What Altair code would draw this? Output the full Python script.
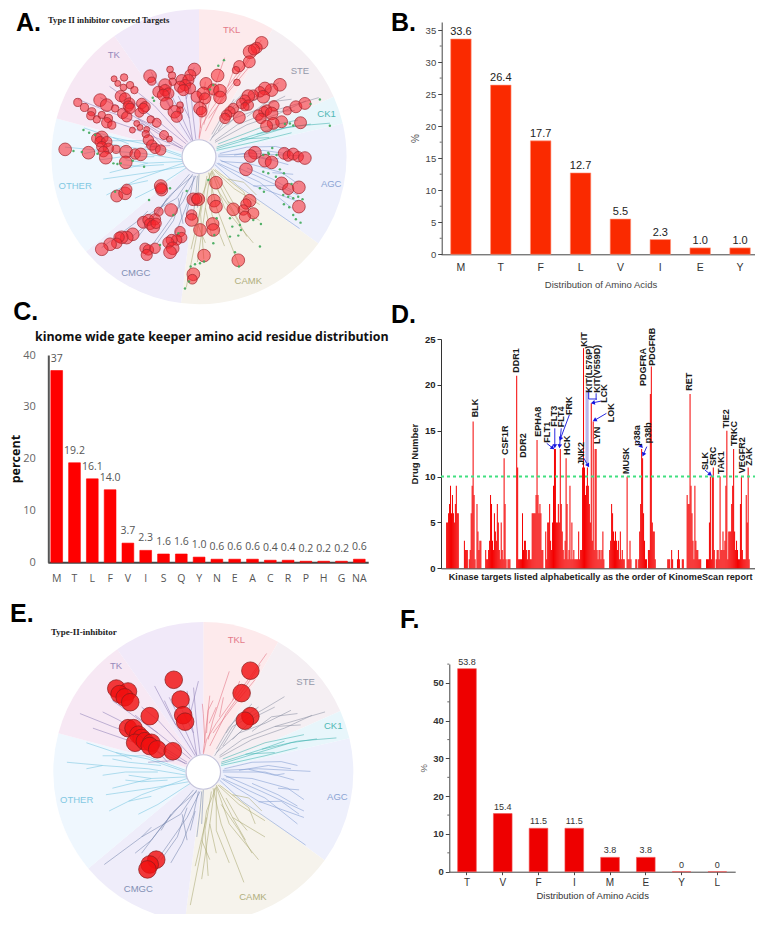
import math
import altair as alt
import pandas as pd

SANS = "Liberation Sans"
SERIF = "Liberation Serif"
OPEN = "Open Sans"

# ---- bar panels -------------------------------------------------------
b_cats = ["M", "T", "F", "L", "V", "I", "E", "Y"]
b_vals = [33.6, 26.4, 17.7, 12.7, 5.5, 2.3, 1.0, 1.0]
b_minor = [2.5, 7.5, 12.5, 17.5, 22.5, 27.5, 32.5]

c_cats = ["M", "T", "L", "F", "V", "I", "S", "Q", "Y", "N", "E", "A", "C", "R", "P", "H", "G", "NA"]
c_vals = [37, 19.2, 16.1, 14.0, 3.7, 2.3, 1.6, 1.6, 1.0, 0.6, 0.6, 0.6, 0.4, 0.4, 0.2, 0.2, 0.2, 0.6]
c_text = ["37", "19.2", "16.1", "14.0", "3.7", "2.3", "1.6", "1.6", "1.0", "0.6", "0.6", "0.6", "0.4", "0.4", "0.2", "0.2", "0.2", "0.6"]

f_cats = ["T", "V", "F", "I", "M", "E", "Y", "L"]
f_vals = [53.8, 15.4, 11.5, 11.5, 3.8, 3.8, 0, 0]
f_text = ["53.8", "15.4", "11.5", "11.5", "3.8", "3.8", "0", "0"]
f_minor = [5, 15, 25, 35, 45, 55]

# ---- panel D: (first slot, drug numbers at consecutive slots, 3 map units apart)
d_runs = [
    (185, [5, 5, 6, 7, 9, 6, 8, 6, 5, 7, 9, 6, 6]),
    (240, [3, 2, 2, 2, 0, 1, 2, 6, 9, 16, 8, 1, 0, 7, 4, 2, 3, 3]),
    (306, [2, 1, 1, 2, 3, 8, 7, 3, 2, 6, 4, 3, 7, 5, 2, 1, 5, 2, 1, 12, 7, 1, 0, 1, 1, 1]),
    (402, [21, 11, 1, 1, 1, 1, 6, 2, 3, 3, 2, 1, 2, 2, 1, 1, 6, 6, 6, 6, 8, 14, 8, 6, 7, 6, 2, 2]),
    (492, [4, 1, 5, 5, 7, 3, 2, 5, 9, 13, 13, 5, 5, 7, 5, 13, 7, 4, 2, 1, 3, 12, 7, 1, 2, 9, 1, 5, 1, 2, 1, 1, 1, 1, 4, 1, 2, 2, 11, 24, 11, 8, 9, 11, 9, 7, 5, 18, 3, 16, 2, 13, 13, 2, 1, 2, 2, 1, 2, 4, 1]),
    (690, [2, 3, 7, 6, 4, 3, 4, 3, 2, 3, 1, 4, 1, 2, 1, 1]),
    (744, [10, 1, 1, 3, 1]),
    (771, [1, 1, 0, 1, 4, 7, 13, 12, 6, 3, 1, 1]),
    (810, [2, 2, 19, 22, 5, 4, 4, 1]),
    (870, [1, 1, 1, 0, 2, 1]),
    (900, [1, 2, 1]),
    (915, [1, 1]),
    (930, [8, 7, 7, 19, 9, 6, 3, 1, 9, 3, 2, 2, 1, 1, 1]),
    (990, [1, 1, 1, 5, 10, 1, 10, 11, 2, 0, 1, 2, 2, 1, 10, 2, 2, 4, 2, 3, 9, 15, 1, 4, 4, 4, 7, 9, 13, 4, 2, 3, 2, 1, 1, 7, 10, 2, 1, 1, 1, 8, 5, 11, 1]),
]
d_names = ["BLK", "CSF1R", "DDR1", "DDR2", "EPHA8", "FLT1", "FLT3", "FLT4", "FRK", "HCK", "JNK2", "KIT",
           "KIT(L576P)", "KIT(V559D)", "LCK", "LOK", "LYN", "MUSK", "p38a", "p38b", "PDGFRA", "PDGFRB",
           "RET", "SLK", "SRC", "TAK1", "TIE2", "TRKC", "VEGFR2", "ZAK"]
d_name_x = [272, 367, 400, 422, 467, 497, 518, 540, 565, 558, 600, 612, 627, 650, 672, 695, 652, 742,
            775, 808, 793, 820, 937, 985, 1010, 1035, 1050, 1075, 1100, 1122]
d_name_y = [352, 465, 218, 473, 410, 428, 380, 382, 345, 465, 495, 140, 278, 278, 308, 367, 432, 522,
            437, 430, 258, 197, 272, 510, 497, 522, 385, 438, 520, 497]
# arrows: x, y, x2, y2 in the same map units
d_arrows = [(495, 430, 512, 443), (520, 385, 520, 437), (540, 385, 535, 437), (565, 345, 538, 415),
            (610, 475, 622, 495), (665, 303, 640, 308), (680, 340, 645, 360), (770, 420, 787, 438),
            (805, 440, 795, 462), (985, 510, 1000, 522)]
d_bracket = [(625, 270, 625, 297), (625, 297, 650, 297), (648, 280, 648, 300)]

# ---- kinome tree: polylines per family, map units from reference crop E
tree_center = (610, 520)
tree = {
    "TKL": [[(610, 465), (620, 420), (650, 370), (700, 300), (745, 240), (805, 155)],
            [(630, 440), (680, 340), (735, 265), (785, 190)],
            [(625, 420), (640, 360), (690, 210)],
            [(610, 460), (630, 285)],
            [(620, 400), (625, 330), (640, 300)],
            [(640, 400), (700, 320), (770, 235)],
            [(615, 430), (610, 340), (607, 310)],
            [(660, 350), (672, 290)], [(700, 300), (722, 240)], [(628, 370), (650, 320)]],
    "STE": [[(645, 470), (700, 380), (790, 330), (860, 288)],
            [(650, 460), (720, 400), (800, 370), (880, 330)],
            [(660, 470), (730, 420), (830, 380), (985, 335)],
            [(660, 475), (760, 420), (860, 385), (945, 345)],
            [(650, 450), (690, 380), (760, 310)],
            [(700, 420), (770, 350), (830, 320)],
            [(670, 440), (720, 360), (780, 320)],
            [(760, 395), (820, 350), (900, 340)], [(680, 400), (720, 340)], [(830, 380), (910, 375)]],
    "CK1": [[(665, 490), (790, 450), (900, 425), (1020, 415)],
            [(665, 495), (780, 460), (880, 430), (960, 418)],
            [(670, 480), (800, 430), (920, 405)],
            [(665, 500), (800, 470), (900, 445)],
            [(790, 450), (860, 425)], [(740, 465), (830, 460)]],
    "AGC": [[(670, 515), (780, 510), (940, 518)],
            [(675, 510), (760, 490), (850, 488), (900, 500)],
            [(670, 520), (800, 520), (890, 545)],
            [(680, 535), (760, 540), (870, 570), (920, 605)],
            [(675, 530), (790, 580), (920, 640)],
            [(665, 540), (780, 610), (920, 660)],
            [(660, 545), (730, 610), (860, 700), (925, 745)],
            [(670, 540), (800, 600), (900, 680)],
            [(720, 515), (810, 500), (880, 510)],
            [(760, 555), (840, 590), (900, 625)],
            [(750, 512), (830, 530), (860, 525)], [(840, 570), (905, 575)], [(780, 612), (850, 610), (905, 650)]],
    "CAMK": [[(650, 565), (620, 640), (600, 780), (570, 930)],
             [(645, 570), (630, 680), (605, 850)],
             [(640, 570), (665, 680), (735, 860)],
             [(650, 560), (700, 660), (800, 720)],
             [(650, 565), (690, 680), (780, 790)],
             [(655, 560), (720, 620), (800, 670)],
             [(650, 570), (650, 700), (690, 800)],
             [(660, 560), (750, 630), (770, 680)],
             [(635, 580), (615, 700), (625, 840)],
             [(620, 660), (585, 810)],
             [(665, 620), (720, 700), (760, 770)],
             [(700, 590), (750, 600), (790, 640)],
             [(700, 660), (740, 730)], [(630, 680), (650, 770)], [(605, 730), (630, 790)], [(680, 600), (720, 670), (745, 700)]],
    "CMGC": [[(590, 575), (540, 650), (420, 720), (305, 805)],
             [(600, 580), (560, 660), (490, 760), (440, 830)],
             [(605, 580), (600, 640), (590, 720)],
             [(595, 580), (580, 650), (545, 740), (510, 800)],
             [(590, 580), (520, 640), (450, 730), (400, 770)],
             [(580, 575), (480, 690), (420, 770)],
             [(610, 575), (605, 680)],
             [(560, 630), (530, 720), (480, 790)],
             [(545, 650), (560, 730)], [(480, 700), (510, 650)], [(420, 720), (450, 690)], [(585, 640), (570, 700)]],
    "OTHER": [[(560, 530), (440, 510), (300, 500), (190, 490)],
              [(555, 520), (440, 480), (340, 460), (250, 430)],
              [(560, 535), (450, 540), (330, 570)],
              [(565, 550), (450, 570), (310, 590)],
              [(570, 555), (470, 620), (410, 650)],
              [(560, 540), (420, 590), (320, 640)],
              [(555, 515), (430, 470), (300, 470)],
              [(480, 500), (380, 490), (330, 480)],
              [(500, 545), (420, 550), (370, 545)],
              [(340, 460), (390, 480)], [(300, 500), (250, 510)], [(450, 540), (380, 530)], [(450, 595), (380, 610)], [(470, 520), (370, 520), (300, 530)]],
    "TK": [[(555, 495), (440, 420), (330, 380), (230, 340)],
           [(560, 490), (450, 420), (350, 360), (300, 335)],
           [(570, 480), (470, 400), (330, 300)],
           [(560, 495), (400, 430), (270, 385)],
           [(585, 470), (510, 350), (460, 255)],
           [(590, 470), (570, 340), (595, 240)],
           [(590, 470), (540, 360), (505, 290)],
           [(575, 475), (470, 360), (420, 320)],
           [(600, 465), (590, 380), (580, 260)],
           [(500, 440), (420, 400), (500, 490)],
           [(570, 340), (560, 270)], [(525, 375), (490, 300)], [(440, 490), (520, 485)], [(580, 400), (545, 330)], [(470, 400), (400, 345)]],
}
family_color = {"TKL": "#e2707f", "STE": "#8b90a2", "CK1": "#3fb2ae", "AGC": "#7f9bd0",
                "CAMK": "#a9a871", "CMGC": "#7585ad", "OTHER": "#77c4e0", "TK": "#8e80b6"}

# sectors: start/end angle clockwise from north, fill
sector_start = [0, 30, 66, 77, 126, 187, 230, 285, 325]
sector_end = [30, 66, 77, 126, 187, 230, 285, 325, 360]
sector_fill = ["#fdeaec", "#f5eff3", "#e8f6fb", "#eef0fc", "#f6f3ec", "#efedfa", "#eff7fe", "#f7e8f4", "#f1e9f9"]

fam_names = ["TK", "TKL", "STE", "CK1", "AGC", "CAMK", "CMGC", "OTHER"]
a_fam_x = [341, 695, 900, 980, 994, 745, 407, 225]
a_fam_y = [165, 90, 213, 341, 551, 843, 819, 558]
e_fam_x = [341, 712, 925, 1010, 1023, 763, 410, 220]
e_fam_y = [192, 112, 243, 377, 598, 905, 880, 605]

# panel A circles: map x, map y, radius
a_circles = [
 (785,128,17),(770,143,15),(750,155,18),(762,148,15),(748,185,16),(718,198,15),(708,210,10),(711,247,9),(653,226,17),
 (583,208,17),(571,225,15),(510,208,9),(516,226,10),(450,228,17),(455,243,11),(518,245,10),(495,255,17),(545,240,15),
 (565,240,15),(555,255,15),(540,260,15),(570,265,15),(550,270,15),(475,275,15),(495,270,15),(505,280,15),(490,285,16),
 (500,310,17),(618,250,16),(640,268,15),(610,280,17),(660,272,17),(660,292,17),(590,290,15),(615,295,15),(600,325,17),
 (605,335,14),(540,315,9),(540,330,9),(523,335,17),(530,350,15),
 (372,232,10),(342,236,8),(353,250,8),(390,255,10),(370,262,9),(403,270,10),(362,288,15),(375,295,15),(388,310,15),
 (300,300,17),(320,315,17),(345,325,10),(233,307,11),(253,322,11),(275,335,11),(272,347,11),(290,358,10),(305,345,10),
 (325,355,11),(320,368,14),(335,375,11),(368,340,14),(380,350,14),(385,318,14),(425,310,14),(435,320,14),(418,338,12),
 (390,325,14),(430,325,14),(452,358,10),(470,368,12),(397,390,8),(420,382,8),(410,370,8),(440,388,8),(437,402,10),
 (445,420,14),(455,435,14),(465,445,14),(482,450,14),(492,405,12),(508,417,8),
 (840,254,17),(815,270,17),(795,265,17),(780,275,14),(790,290,17),(760,285,14),(745,288,17),(735,300,14),(725,310,14),
 (745,315,14),(700,325,14),(690,335,14),(680,345,14),(735,320,11),(718,352,16),(822,317,14),(800,330,14),(792,335,14),
 (815,340,17),(775,345,14),(783,355,14),(862,332,11),(888,320,16),(915,310,16),(845,365,16),(820,370,16),(800,378,16),
 (902,368,16),(675,355,14),
 (765,458,17),(752,468,17),(795,482,17),(815,487,17),(853,460,16),(865,468,14),(880,462,16),(895,470,14),(915,474,17),
 (738,508,17),(845,550,17),(865,567,15),(897,562,17),(897,620,17),
 (195,448,17),(265,458,17),(305,412,17),(290,415,14),(300,425,14),(320,425,14),(305,440,14),(325,445,14),(310,455,14),
 (348,448,11),(317,473,17),(378,455,17),(377,487,17),(405,462,14),(422,463,17),(350,588,16),(375,580,17),(380,568,14),
 (482,558,17),(485,570,16),(483,565,15),
 (648,548,17),(642,602,17),(648,620,17),(749,602,17),(738,612,14),(700,628,17),(730,630,14),(760,640,15),(735,650,15),
 (638,672,17),(640,690,17),(600,690,17),(612,767,17),(715,781,17),(580,823,17),(577,838,13),
 (580,598,17),(595,598,17),(590,597,14),(575,645,14),(575,660,17),(513,630,17),(476,635,12),(430,667,16),(445,660,15),
 (465,658,15),(450,672,15),(460,680,17),(468,670,14),(398,703,17),(380,713,17),(365,712,17),(357,712,14),(350,730,14),
 (330,733,17),(305,748,17),(540,695,14),(545,713,14),(530,720,14),(515,720,15),(505,728,15),(518,745,17),(510,757,17),
 (435,745,14),(445,750,14),(465,745,14),(440,765,15),
]
a_center = (597, 470)
a_dots = [
 (960,298),(990,377),(932,312),(870,370),(880,376),(855,372),(672,180),(655,197),(640,255),(630,268),(458,293),(462,302),
 (250,390),(267,398),(285,405),(220,453),(245,456),(292,461),(340,490),(352,492),(362,490),(398,482),(432,500),(817,444),
 (805,458),(790,465),(830,465),(807,462),(840,508),(852,520),(790,515),(805,520),(828,530),(875,552),(780,565),(792,575),
 (850,585),(865,590),(880,595),(895,590),(908,598),(852,613),(868,622),(880,645),(888,658),(902,668),(345,575),(447,600),
 (510,565),(560,573),(625,540),(690,655),(760,660),(783,672),(720,675),(697,680),(723,690),(715,707),(690,710),(643,705),
 (780,740),(705,757),(717,800),(650,655),(640,730),(612,785),(600,790),(585,793),(572,800),(567,845),(555,866),(520,645),
 (480,735),(535,700),
]
# panel E circles: map x, map y
e_circles = [(519,236),(540,297),(548,345),(554,365),(342,263),(378,272),(352,280),(368,290),(385,305),(445,348),(755,208),
             (728,277),(755,348),(738,362),(378,385),(395,385),(410,405),(420,415),(400,430),(430,425),(450,430),(445,440),
             (468,450),(516,456),(465,790),(445,805),(438,820)]

# ---- layout of the grid cells
COLS = [8, 380]
COL_W = [372, 377]
ROWS = [8, 300, 600]
ROW_H = [292, 300, 315]


def note(text, x, y, cell, **kw):
    """Annotation given in page position, converted to the cell."""
    kw.setdefault("font", SANS)
    return alt.Chart(alt.Data(values=[{"t": text}])).mark_text(**kw).encode(
        x=alt.value(x - cell[0]), y=alt.value(y - cell[1]), text="t:N")


def band(cats, a, b, pad):
    return alt.Scale(domain=cats, range=[a, b], paddingInner=pad, paddingOuter=pad / 2)


def bar_panel(cats, vals, texts, cell, size, xr, pad, yd, yr, color, stroke, axis_y, axis_x, label, dy, minor=None, minor_x=None, extra=()):
    df = pd.DataFrame({"c": cats, "v": vals, "t": texts})
    xs = band(cats, xr[0] - cell[0], xr[1] - cell[0], pad)
    ys = alt.Scale(domain=yd, range=[yr[0] - cell[1], yr[1] - cell[1]], nice=False, zero=False)
    base = alt.Chart(df)
    layers = [
        base.mark_bar(color=color, stroke=stroke, strokeWidth=0.6).encode(
            x=alt.X("c:N", scale=xs, axis=alt.Axis(labelOverlap=False, **axis_x), sort=None),
            y=alt.Y("v:Q", scale=ys, axis=alt.Axis(labelOverlap=False, **axis_y))),
        base.mark_text(dy=dy, **label).encode(
            x=alt.X("c:N", scale=xs, sort=None), y=alt.Y("v:Q", scale=ys), text="t:N"),
    ]
    if minor:
        layers.append(alt.Chart(pd.DataFrame({"v": minor})).mark_rule(color="#444", strokeWidth=0.8).encode(
            y=alt.Y("v:Q", scale=ys), x=alt.value(minor_x - 2 - cell[0]), x2=alt.value(minor_x - cell[0])))
    layers.extend(extra)
    return alt.layer(*layers).properties(width=size[0], height=size[1])


def tree_frame():
    rows = []
    k = 0
    for fam, lines in tree.items():
        for line in lines:
            k += 1
            for i, (x, y) in enumerate(line):
                rows.append({"fam": fam, "b": k, "i": i, "x": (x - tree_center[0]) / 462, "y": (y - tree_center[1]) / 462})
    return pd.DataFrame(rows)


def kinome(cell, cx, cy, R, cen, zR, marks, names_x, names_y, title_layer, line_op):
    sx = alt.Scale(domain=[-1, 1], range=[cx - R - cell[0], cx + R - cell[0]], nice=False, zero=False)
    sy = alt.Scale(domain=[-1, 1], range=[cy - R - cell[1], cy + R - cell[1]], nice=False, zero=False)
    sectors = pd.DataFrame({"a": [math.radians(v) for v in sector_start],
                            "b": [math.radians(v) for v in sector_end], "f": sector_fill})
    X0 = alt.X(datum=0, scale=sx, axis=None)
    Y0 = alt.Y(datum=0, scale=sy, axis=None)
    bg = alt.Chart(sectors).mark_arc(outerRadius=R, innerRadius=0).encode(
        x=X0, y=Y0, theta=alt.Theta("a:Q", scale=None), theta2=alt.Theta2("b:Q"),
        fill=alt.Fill("f:N", scale=None, legend=None))
    tree_l = alt.Chart(tree_frame()).mark_line(strokeWidth=0.65, opacity=line_op).encode(
        x=alt.X("x:Q", scale=sx, axis=None), y=alt.Y("y:Q", scale=sy, axis=None),
        detail="b:N", order="i:Q",
        color=alt.Color("fam:N", scale=alt.Scale(domain=list(family_color), range=list(family_color.values())), legend=None))
    hub = alt.Chart(alt.Data(values=[{"o": 1}])).mark_arc(outerRadius=R * 0.115, innerRadius=0, fill="white", stroke="#c4c4dc", strokeWidth=1.2).encode(
        x=X0, y=Y0, theta=alt.value(0), theta2=alt.value(6.2832))
    nm = pd.DataFrame({"n": fam_names, "x": [(v - cen[0]) / zR for v in names_x], "y": [(v - cen[1]) / zR for v in names_y]})
    names = alt.Chart(nm).mark_text(font=SANS, fontSize=9.5, opacity=0.9).encode(
        x=alt.X("x:Q", scale=sx, axis=None), y=alt.Y("y:Q", scale=sy, axis=None), text="n:N",
        color=alt.Color("n:N", scale=alt.Scale(domain=fam_names, range=["#5b4ba0", "#e0606e", "#7c8296", "#12a6a8", "#4a78d0", "#8f8e45", "#4f63a8", "#4db2e2"]), legend=None))
    return alt.layer(bg, tree_l, hub, names, *[m(sx, sy) for m in marks], *title_layer).properties(width=COL_W[cell[2]], height=ROW_H[cell[3]])


def a_circle_layer(sx, sy):
    df = pd.DataFrame(a_circles, columns=["x", "y", "r"])
    df["x"] = (df.x - a_center[0]) / 443
    df["y"] = (df.y - a_center[1]) / 443
    df["s"] = (2 * 1.12 * df.r / 3) ** 2
    return alt.Chart(df).mark_point(filled=True, shape="circle", fill="#f8222a", fillOpacity=0.55, stroke="#a02830", strokeWidth=0.8, strokeOpacity=0.9).encode(
        x=alt.X("x:Q", scale=sx, axis=None), y=alt.Y("y:Q", scale=sy, axis=None), size=alt.Size("s:Q", scale=None, legend=None))


def a_dot_layer(sx, sy):
    df = pd.DataFrame(a_dots, columns=["x", "y"])
    df["x"] = (df.x - a_center[0]) / 443
    df["y"] = (df.y - a_center[1]) / 443
    return alt.Chart(df).mark_point(filled=True, shape="circle", size=6, color="#3fa85a", opacity=0.9).encode(
        x=alt.X("x:Q", scale=sx, axis=None), y=alt.Y("y:Q", scale=sy, axis=None))


def e_circle_layer(sx, sy):
    df = pd.DataFrame(e_circles, columns=["x", "y"])
    df["x"] = (df.x - tree_center[0]) / 462
    df["y"] = (df.y - tree_center[1]) / 462
    return alt.Chart(df).mark_point(filled=True, shape="circle", size=310, fill="#f01010", fillOpacity=0.82, stroke="#8a1a1a", strokeWidth=0.8, strokeOpacity=0.9).encode(
        x=alt.X("x:Q", scale=sx, axis=None), y=alt.Y("y:Q", scale=sy, axis=None))


LETTER = dict(fontSize=25, fontWeight="bold", align="left", baseline="alphabetic", color="black")

# ---- A
cell = (COLS[0], ROWS[0], 0, 0)
panel_a = kinome(cell, 199, 156.7, 147.5, a_center, 443, [a_circle_layer, a_dot_layer], a_fam_x, a_fam_y, [
    note("A.", 16, 30.5, cell, **LETTER),
    note("Type II inhibitor covered Targets", 48, 19.5, cell, font=SERIF, fontSize=8.6, fontWeight="bold", align="left", color="#222"),
], 0.85)

# ---- B
cell = (COLS[1], ROWS[0], 1, 0)
panel_b = bar_panel(
    b_cats, b_vals, [f"{v:.1f}" for v in b_vals], cell, (COL_W[1], ROW_H[0]), (441, 760), 0.486,
    [0, 36.25], (254.3, 22), "#fa2a00", "#ff9980",
    dict(values=[0, 5, 10, 15, 20, 25, 30, 35], title="%", offset=-(441.7 - cell[0]), grid=False, tickSize=4, tickColor="#444",
         domainColor="#444", labelFont=SANS, labelFontSize=9.5, labelColor="#444", titleFont=SANS, titleFontSize=10,
         titleFontWeight="normal", titleColor="#555", titlePadding=5, labelPadding=2),
    dict(title="Distribution of Amino Acids", labelAngle=0, offset=(254.3 - cell[1]) - ROW_H[0], grid=False, tickSize=0,
         domainColor="#444", labelFont=SANS, labelFontSize=10.5, labelColor="#333", labelPadding=8, titleFont=SANS,
         titleFontSize=9.5, titleFontWeight="normal", titleColor="#444", titlePadding=7),
    dict(font=SANS, fontSize=11, color="#222"), -7, minor=b_minor, minor_x=441.7,
    extra=[note("B.", 391, 30.5, cell, **LETTER)])

# ---- C
cell = (COLS[0], ROWS[1], 0, 1)
panel_c = bar_panel(
    c_cats, c_vals, c_text, cell, (COL_W[0], ROW_H[1]), (47.8, 368.2), 0.34,
    [0, 40], (562.3, 355), "#ff0000", "#ff0000",
    dict(values=[0, 5, 10, 15, 20, 25, 30, 35, 40], title="percent", offset=-(48.3 - cell[0]), grid=False, ticks=False,
         domainColor="#555", domainWidth=2, labelFont=OPEN, labelFontSize=11, labelColor="#666", labelPadding=13,
         titleFont=OPEN, titleFontSize=12.5, titleFontWeight="bold", titleColor="#111", titlePadding=0),
    dict(title=None, labelAngle=0, offset=(562.3 - cell[1]) - ROW_H[1], grid=False, ticks=False, domainColor="#444", domainWidth=2,
         labelFont=OPEN, labelFontSize=10.5, labelColor="#555", labelPadding=11),
    dict(font=OPEN, fontSize=10.5, color="#555"), -12,
    extra=[note("C.", 13.3, 320, cell, **LETTER),
           note("kinome wide gate keeper amino acid residue distribution", 35, 337, cell, font=OPEN, fontSize=12.4, fontWeight="bold", align="left", color="#111")])

# ---- D
cell = (COLS[1], ROWS[1], 1, 1)
slots, nums = [], []
for start, run in d_runs:
    for i, v in enumerate(run):
        if v > 0:
            slots.append(start + 3 * i)
            nums.append(v)
dy_map = lambda z: (805 - z) / 27.52
dsx = alt.Scale(domain=[183, 1138], range=[441 - cell[0], 759.3 - cell[0]], nice=False, zero=False)
dsy = alt.Scale(domain=[0, 25], range=[568.3 - cell[1], 339 - cell[1]], nice=False, zero=False)
d_bars = alt.Chart(pd.DataFrame({"x": slots, "v": nums})).mark_bar(color="#f40000", width=1).encode(
    x=alt.X("x:Q", scale=dsx, axis=alt.Axis(values=[], title="Kinase targets listed alphabetically as the order of KinomeScan report",
            offset=(568.3 - cell[1]) - ROW_H[1], grid=False, ticks=False, labels=False, domainColor="#333", titleFont=SANS,
            titleFontSize=9.1, titleFontWeight="bold", titleColor="#222", titlePadding=4)),
    y=alt.Y("v:Q", scale=dsy, axis=alt.Axis(values=[0, 5, 10, 15, 20, 25], title="Drug Number", offset=-(441 - cell[0]), grid=False,
            tickSize=4, tickColor="#333", domainColor="#333", labelFont=SANS, labelFontSize=9.5, labelFontWeight="bold", labelColor="#222",
            labelPadding=2, labelOverlap=False, titleFont=SANS, titleFontSize=9.5, titleFontWeight="bold", titleColor="#222", titlePadding=5)))
d_band = alt.Chart(pd.DataFrame({"x": [615], "x2": [625], "y": [dy_map(270)], "y2": [dy_map(490)]})).mark_rect(color="#b8b8ec").encode(
    x=alt.X("x:Q", scale=dsx), x2="x2:Q", y=alt.Y("y:Q", scale=dsy), y2="y2:Q")
d_thr = alt.Chart(pd.DataFrame({"y": [10]})).mark_rule(color="#40e080", strokeWidth=2, strokeDash=[3, 3]).encode(
    y=alt.Y("y:Q", scale=dsy), x=alt.value(441 - cell[0]), x2=alt.value(759.3 - cell[0]))
segs = [{"x": a, "y": dy_map(b), "x2": c, "y2": dy_map(d)} for a, b, c, d in d_arrows + d_bracket]
d_seg = alt.Chart(pd.DataFrame(segs)).mark_rule(color="#2a2ae0", strokeWidth=1).encode(
    x=alt.X("x:Q", scale=dsx), x2="x2:Q", y=alt.Y("y:Q", scale=dsy), y2="y2:Q")
heads = [{"x": c, "y": dy_map(d), "ang": (math.degrees(math.atan2(c - a, -(d - b))) + 360) % 360} for a, b, c, d in d_arrows]
d_head = alt.Chart(pd.DataFrame(heads)).mark_point(filled=True, shape="triangle", size=22, color="#1414e0", opacity=1).encode(
    x=alt.X("x:Q", scale=dsx), y=alt.Y("y:Q", scale=dsy), angle=alt.Angle("ang:Q", scale=None))
d_lab = alt.Chart(pd.DataFrame({"n": d_names, "x": d_name_x, "y": [dy_map(v) for v in d_name_y]})).mark_text(
    font=SANS, fontSize=9, fontWeight="bold", angle=270, align="left", baseline="middle", color="#1a1a1a").encode(
    x=alt.X("x:Q", scale=dsx), y=alt.Y("y:Q", scale=dsy), text="n:N")
panel_d = alt.layer(d_band, d_bars, d_thr, d_seg, d_head, d_lab, note("D.", 391, 323, cell, **LETTER)).properties(width=COL_W[1], height=ROW_H[1])

# ---- E
cell = (COLS[0], ROWS[2], 0, 2)
panel_e = kinome(cell, 203.3, 772, 150, tree_center, 462, [e_circle_layer], e_fam_x, e_fam_y, [
    note("E.", 10, 621.7, cell, **LETTER),
    note("Type-II-inhibitor", 51, 631.7, cell, font=SERIF, fontSize=9, fontWeight="bold", align="left", color="#222"),
], 0.85)

# ---- F
cell = (COLS[1], ROWS[2], 1, 2)
panel_f = bar_panel(
    f_cats, f_vals, f_text, cell, (COL_W[1], ROW_H[2]), (449.1, 735.2), 0.478,
    [0, 55.03], (871.7, 664), "#ee0000", "#ee5555",
    dict(values=[0, 10, 20, 30, 40, 50], title="%", offset=-(449.3 - cell[0]), grid=False, tickSize=4, tickColor="#444",
         domainColor="#444", labelFont=SANS, labelFontSize=9.5, labelFontWeight="bold", labelColor="#333", labelPadding=2,
         titleFont=SANS, titleFontSize=9.5, titleFontWeight="normal", titleColor="#666", titlePadding=4),
    dict(title="Distribution of Amino Acids", labelAngle=0, offset=(871.7 - cell[1]) - ROW_H[2], grid=False, tickSize=3, tickColor="#444",
         domainColor="#444", labelFont=SANS, labelFontSize=10, labelColor="#333", labelPadding=3, titleFont=SANS, titleFontSize=9.5,
         titleFontWeight="normal", titleColor="#333", titlePadding=3),
    dict(font=SANS, fontSize=9, color="#333"), -7, minor=f_minor, minor_x=449.3,
    extra=[note("F.", 400, 628, cell, **LETTER)])

chart = alt.concat(panel_a, panel_b, panel_c, panel_d, panel_e, panel_f, columns=2, spacing=0, bounds="flush",
                   padding={"left": 0, "top": 0, "right": -6, "bottom": -8}, background="white").configure_view(stroke=None)
chart.save("out.html", embed_options={"renderer": "svg", "actions": False})
